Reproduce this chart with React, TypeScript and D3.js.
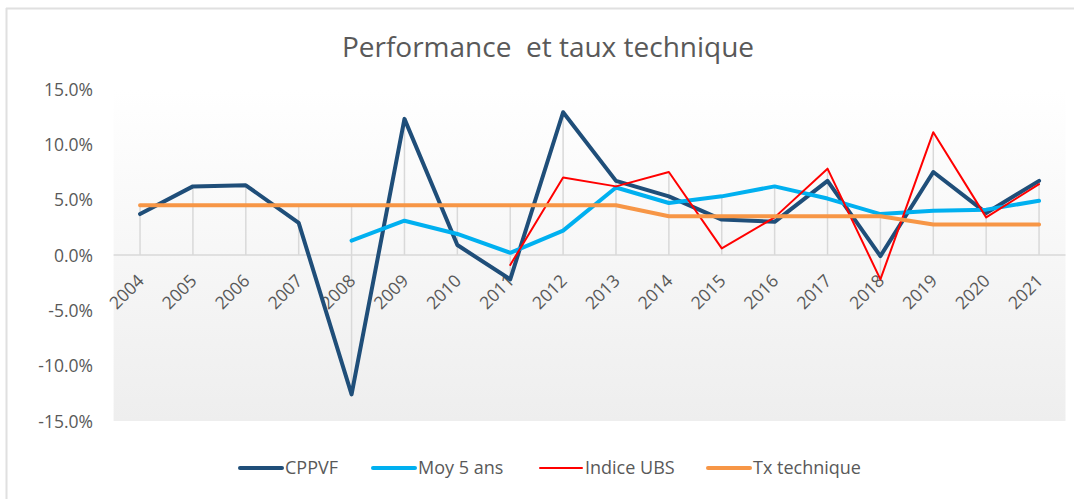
import React from "react";
import * as d3 from "d3";

const years = ["2004","2005","2006","2007","2008","2009","2010","2011","2012","2013","2014","2015","2016","2017","2018","2019","2020","2021"];
const cppvf: (number | null)[] = [3.7, 6.2, 6.3, 2.9, -12.6, 12.3, 0.9, -2.2, 12.9, 6.7, 5.3, 3.2, 3.0, 6.7, -0.1, 7.5, 3.8, 6.7];
const moy5: (number | null)[] = [null, null, null, null, 1.3, 3.1, 1.9, 0.2, 2.2, 6.1, 4.7, 5.3, 6.2, 5.1, 3.7, 4.0, 4.1, 4.9];
const ubs: (number | null)[] = [null, null, null, null, null, null, null, -0.9, 7.0, 6.2, 7.5, 0.6, 3.4, 7.8, -2.2, 11.1, 3.4, 6.4];
const txTech: (number | null)[] = [4.5, 4.5, 4.5, 4.5, 4.5, 4.5, 4.5, 4.5, 4.5, 4.5, 3.5, 3.5, 3.5, 3.5, 3.5, 2.75, 2.75, 2.75];
const yTicks = [15, 10, 5, 0, -5, -10, -15];

const seriesList = [
  { name: "CPPVF", values: cppvf, color: "#1f4e79", width: 4 },
  { name: "Moy 5 ans", values: moy5, color: "#00b0f0", width: 4 },
  { name: "Indice UBS", values: ubs, color: "#ff0000", width: 2 },
  { name: "Tx technique", values: txTech, color: "#f79646", width: 4 },
];

const W = 1074, H = 499;
const left = 113.6, right = 1065.5, top = 89, bottom = 421;
const font = "'Open Sans', 'Noto Sans', sans-serif";
const txtColor = "#595959";

export default function App() {
  const x = d3.scaleBand<string>().domain(years).range([left, right]).padding(0);
  const y = d3.scaleLinear().domain([-15, 15]).range([bottom, top]);
  const cx = (yr: string) => (x(yr) as number) + x.bandwidth() / 2;

  const line = d3
    .line<number | null>()
    .defined((d) => d !== null)
    .x((_, i) => cx(years[i]))
    .y((d) => y(d as number));

  const drops = years.map((yr, i) => {
    const vals = seriesList.map((s) => s.values[i]).filter((v) => v !== null) as number[];
    const hi = Math.max(0, ...vals);
    const lo = Math.min(0, ...vals);
    return { yr, hi, lo };
  });

  const legendX = [240, 373, 540, 708];

  return (
    <svg width={W} height={H} style={{ position: "absolute", left: 0, top: 0, background: "#fff" }}>
      <defs>
        <linearGradient id="bg" x1="0" y1="0" x2="0" y2="1">
          <stop offset="0" stopColor="#ffffff" />
          <stop offset="1" stopColor="#eeeeee" />
        </linearGradient>
      </defs>
      <line x1={6} y1={8.5} x2={W} y2={8.5} stroke="#e0e0e0" strokeWidth={2} />
      <line x1={6.5} y1={8} x2={6.5} y2={H} stroke="#e0e0e0" strokeWidth={2} />
      <text x={548} y={57} textAnchor="middle" fontFamily={font} fontSize={28} fill={txtColor} style={{ whiteSpace: "pre" }}>
        {"Performance  et taux technique"}
      </text>
      <rect x={left} y={top} width={right - left} height={bottom - top} fill="url(#bg)" />
      {drops.map((d) => (
        <line key={d.yr} x1={cx(d.yr)} x2={cx(d.yr)} y1={y(d.hi)} y2={y(d.lo)} stroke="#d9d9d9" strokeWidth={1.5} />
      ))}
      <line x1={left} x2={right} y1={y(0)} y2={y(0)} stroke="#d9d9d9" strokeWidth={1.5} />
      {yTicks.map((t) => (
        <text key={t} x={93} y={y(t) + 6.5} textAnchor="end" fontFamily={font} fontSize={17.5} fill={txtColor}>
          {t.toFixed(1) + "%"}
        </text>
      ))}
      {years.map((yr) => (
        <text
          key={yr}
          transform={`translate(${cx(yr) + 5},${y(0) + 27}) rotate(-45)`}
          textAnchor="end"
          fontFamily={font}
          fontSize={17.5}
          fill={txtColor}
        >
          {yr}
        </text>
      ))}
      {seriesList.map((s) => (
        <path key={s.name} d={line(s.values) || ""} fill="none" stroke={s.color} strokeWidth={s.width} strokeLinejoin="round" strokeLinecap="round" />
      ))}
      {seriesList.map((s, i) => (
        <g key={s.name}>
          <line x1={legendX[i]} x2={legendX[i] + 42} y1={468} y2={468} stroke={s.color} strokeWidth={s.width} strokeLinecap="round" />
          <text x={legendX[i] + 45} y={474} fontFamily={font} fontSize={18} fill={txtColor}>
            {s.name}
          </text>
        </g>
      ))}
    </svg>
  );
}
